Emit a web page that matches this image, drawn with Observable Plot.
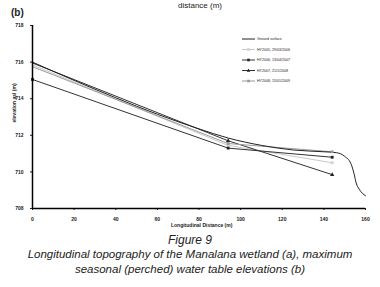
<!DOCTYPE html>
<html><head><meta charset="utf-8">
<script src="https://cdn.jsdelivr.net/npm/d3@7"></script>
<script src="https://cdn.jsdelivr.net/npm/@observablehq/plot@0.6"></script>
<style>
body{margin:0;background:#fff;font-family:"Liberation Sans",Arial,sans-serif;}
#wrap{position:relative;width:380px;height:287px;overflow:hidden;}
.abs{position:absolute;white-space:nowrap;}
#cap{position:absolute;top:232px;left:0;width:380px;text-align:center;font-style:italic;color:#222;}
</style></head>
<body><div id="wrap"></div>
<script>
// Data
const groundX = [0, 20, 40, 60, 80, 94, 110, 125, 140, 146, 150, 153, 154.5, 155.5, 157, 160];
const groundY = [716.0, 715.0, 714.05, 713.15, 712.35, 711.85, 711.45, 711.2, 711.1, 711.05, 710.85, 710.45, 709.9, 709.4, 709.05, 708.7];
const seriesNames = ["HY2005, 29/03/2006", "HY2006, 13/04/2007", "HY2007, 21/1/2008", "HY2008, 15/01/2009"];
const wellX = [0, 94, 144];
const hy2005 = [715.85, 711.45, 710.5];
const hy2006 = [715.05, 711.3, 710.8];
const hy2007 = [715.95, 711.7, 709.85];
const hy2008 = [715.75, 711.55, 711.1];
const xTicks = [0, 20, 40, 60, 80, 100, 120, 140, 160];
const yTicks = [708, 710, 712, 714, 716, 718];

const styles = {
  "HY2005, 29/03/2006": {stroke: "#c9c9c9", symbol: "square", fill: "#d0d0d0"},
  "HY2006, 13/04/2007": {stroke: "#333", symbol: "square", fill: "#222"},
  "HY2007, 21/1/2008": {stroke: "#333", symbol: "triangle", fill: "#222"},
  "HY2008, 15/01/2009": {stroke: "#999", symbol: "square", fill: "#999"}
};
const vals = [hy2005, hy2006, hy2007, hy2008];
const wells = seriesNames.flatMap((s, i) => wellX.map((x, j) => ({s, x, y: vals[i][j]})));
const ground = groundX.map((x, i) => ({x, y: groundY[i]}));

const marks = [];
seriesNames.forEach(s => {
  const d = wells.filter(w => w.s === s);
  marks.push(Plot.line(d, {x: "x", y: "y", stroke: styles[s].stroke, strokeWidth: 1}));
});
marks.push(Plot.line(ground, {x: "x", y: "y", stroke: "#222", strokeWidth: 1, curve: "monotone-x"}));
seriesNames.forEach(s => {
  const d = wells.filter(w => w.s === s && w.x > 0 || (w.s === s && w.x === 0 && s === "HY2006, 13/04/2007"));
  marks.push(Plot.dot(d, {x: "x", y: "y", symbol: () => styles[s].symbol, fill: styles[s].fill, r: 1.6}));
});
marks.push(Plot.ruleX([0], {stroke: "#000", strokeWidth: 1.5}));
marks.push(Plot.ruleY([708], {stroke: "#000", strokeWidth: 1.5}));

const chart = Plot.plot({
  width: 380, height: 230,
  marginLeft: 32, marginRight: 15, marginTop: 25, marginBottom: 22,
  style: {fontSize: "5px", fontWeight: "bold", fontFamily: "Liberation Sans, Arial, sans-serif", color: "#222"},
  x: {domain: [0, 160], ticks: xTicks, label: null, tickSize: 2},
  y: {domain: [708, 718], ticks: yTicks, label: null, tickSize: 2},
  symbol: {type: "identity"},
  marks
});
const wrap = document.getElementById("wrap");
chart.style.position = "absolute"; chart.style.left = "0"; chart.style.top = "0";
wrap.appendChild(chart);

function addText(txt, css){const d=document.createElement("div");d.className="abs";d.textContent=txt;Object.assign(d.style,css);wrap.appendChild(d);return d;}
addText("distance (m)", {left:"178px", top:"1px", fontSize:"8px", color:"#222"});
addText("(b)", {left:"11px", top:"7px", fontSize:"10px", fontWeight:"bold", color:"#222"});
addText("Longitudinal Distance (m)", {left:"171px", top:"222px", fontSize:"5px", lineHeight:"6px", fontWeight:"bold", color:"#222"});
addText("elevation asl (m)", {left:"-6px", top:"100px", fontSize:"5px", lineHeight:"6px", fontWeight:"bold", color:"#222", transform:"rotate(-90deg)", transformOrigin:"center"});

// Legend
const legItems = [{name: "Ground surface", stroke: "#222", symbol: null, fill: null}].concat(seriesNames.map(s => ({name: s, ...styles[s]})));
const ns = "http://www.w3.org/2000/svg";
const lg = document.createElementNS(ns, "svg");
lg.setAttribute("width", 80); lg.setAttribute("height", 55);
lg.style.position = "absolute"; lg.style.left = "240px"; lg.style.top = "34px";
legItems.forEach((it, i) => {
  const y = 5 + i * 10.5;
  const l = document.createElementNS(ns, "line");
  l.setAttribute("x1", 2); l.setAttribute("x2", 15); l.setAttribute("y1", y); l.setAttribute("y2", y);
  l.setAttribute("stroke", it.stroke); l.setAttribute("stroke-width", 1); lg.appendChild(l);
  if (it.symbol) {
    const p = document.createElementNS(ns, "path");
    p.setAttribute("d", it.symbol === "triangle" ? `M8.5,${y-2}L10.3,${y+1.3}L6.7,${y+1.3}Z` : `M7.2,${y-1.3}h2.6v2.6h-2.6Z`);
    p.setAttribute("fill", it.fill); lg.appendChild(p);
  }
  const t = document.createElementNS(ns, "text");
  t.setAttribute("x", 17); t.setAttribute("y", y + 1.3); t.setAttribute("font-size", "3.6px");
  t.setAttribute("font-family", "Liberation Sans, Arial, sans-serif"); t.setAttribute("fill", "#222");
  t.textContent = it.name; lg.appendChild(t);
});
wrap.appendChild(lg);

const cap = document.createElement("div"); cap.id = "cap";
cap.innerHTML = '<div style="font-size:12px;line-height:14px;margin-top:1px">Figure 9</div><div style="font-size:11.5px;line-height:15px">Longitudinal topography of the Manalana wetland (a), maximum<br>seasonal (perched) water table elevations (b)</div>';
wrap.appendChild(cap);
</script></body></html>
